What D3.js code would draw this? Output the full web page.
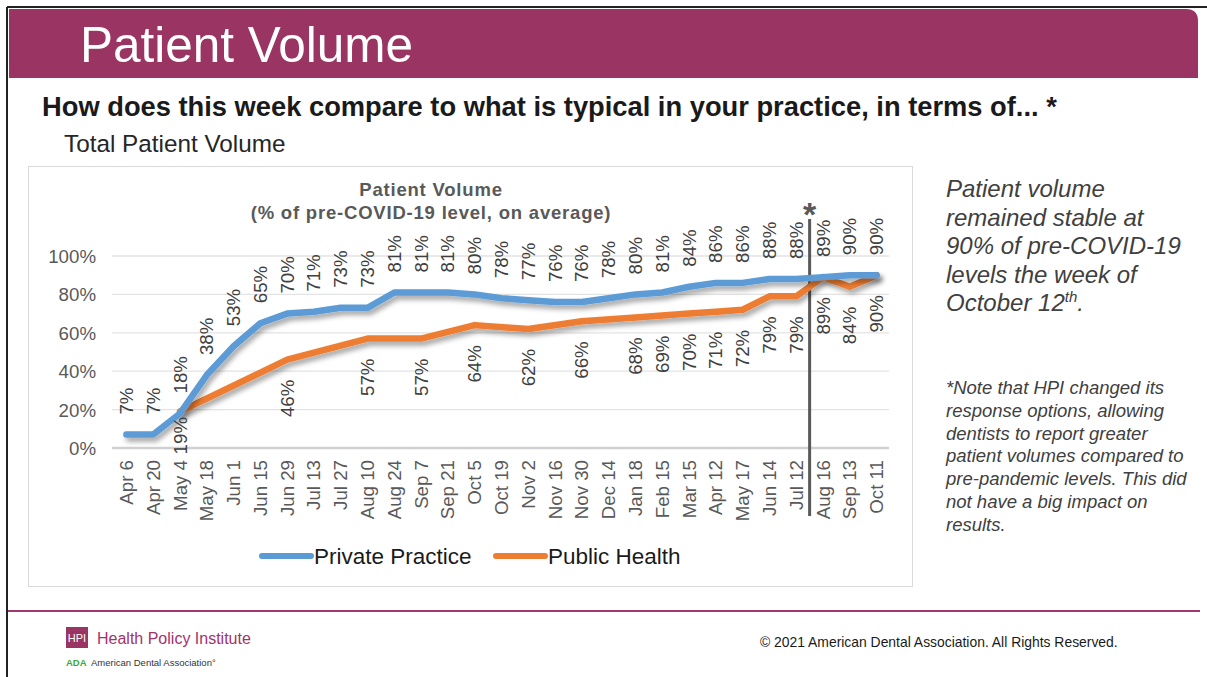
<!DOCTYPE html>
<html lang="en">
  <head>
    <meta charset="utf-8" />
    <title>Patient Volume</title>
    <script type="text/javascript" src="https://d3js.org/d3.v7.min.js"></script>
    <style>
      body { margin: 0; background: #fff; }
      svg { display: block; font-family: Arial, "Liberation Sans", sans-serif; }
    </style>
  </head>
  <body>
    <div id="slide"></div>

    <script type="text/javascript">
      /********************************
       * data
       ********************************/

      const categories = [
        "Apr 6", "Apr 20", "May 4", "May 18", "Jun 1", "Jun 15", "Jun 29",
        "Jul 13", "Jul 27", "Aug 10", "Aug 24", "Sep 7", "Sep 21", "Oct 5",
        "Oct 19", "Nov 2", "Nov 16", "Nov 30", "Dec 14", "Jan 18", "Feb 15",
        "Mar 15", "Apr 12", "May 17", "Jun 14", "Jul 12", "Aug 16", "Sep 13",
        "Oct 11",
      ];

      const privatePractice = [
        7, 7, 18, 38, 53, 65, 70, 71, 73, 73, 81, 81, 81, 80, 78, 77, 76, 76,
        78, 80, 81, 84, 86, 86, 88, 88, 89, 90, 90,
      ];

      // null = no value that week, line is drawn straight across the gap
      const publicHealth = [
        null, null, 19, null, null, null, 46, null, null, 57, null, 57, null,
        64, null, 62, null, 66, null, 68, 69, 70, 71, 72, 79, 79, 89, 84, 90,
      ];

      const yTicks = [0, 20, 40, 60, 80, 100];
      const changeAfter = "Jul 12"; // response options changed after this week

      const seriesNames = ["Private Practice", "Public Health"];
      const seriesColors = ["#5B9BD5", "#ED7D31"];

      /***************************
       * svg
       **************************/

      const width = 1207;
      const height = 677;
      const magenta = "#993463";

      const svg = d3
        .select("div#slide")
        .append("svg")
        .attr("width", width)
        .attr("height", height);

      const defs = svg.append("defs");
      defs
        .append("filter")
        .attr("id", "shadow")
        .attr("x", "-5%")
        .attr("y", "-20%")
        .attr("width", "110%")
        .attr("height", "140%")
        .append("feDropShadow")
        .attr("dx", 2.5)
        .attr("dy", 4)
        .attr("stdDeviation", 2.5)
        .attr("flood-color", "#000")
        .attr("flood-opacity", 0.35);

      /***************************
       * slide frame + header
       **************************/

      svg.append("line") // top edge
        .attr("x1", 7).attr("x2", width).attr("y1", 7).attr("y2", 7)
        .style("stroke", "#222").style("stroke-width", 2);
      svg.append("line") // left edge
        .attr("x1", 7).attr("x2", 7).attr("y1", 7).attr("y2", height)
        .style("stroke", "#222").style("stroke-width", 2);

      svg.append("path")
        .attr("d", "M9,9 H1186 Q1198,9 1198,21 V78 H9 Z")
        .style("fill", magenta);

      svg.append("text")
        .attr("x", 80).attr("y", 62)
        .style("font-size", "49.5px").style("fill", "#fff")
        .text("Patient Volume");

      svg.append("text")
        .attr("x", 42).attr("y", 116)
        .style("font-size", "27.3px").style("font-weight", "bold").style("fill", "#1a1a1a")
        .text("How does this week compare to what is typical in your practice, in terms of... *");

      svg.append("text")
        .attr("x", 64).attr("y", 152)
        .style("font-size", "24.3px").style("fill", "#262626")
        .text("Total Patient Volume");

      /***************************
       * chart box
       **************************/

      svg.append("rect")
        .attr("x", 28.5).attr("y", 166.5).attr("width", 884).attr("height", 420)
        .style("fill", "#fff").style("stroke", "#d9d9d9");

      svg.append("text")
        .attr("x", 431).attr("y", 196).attr("text-anchor", "middle")
        .style("font-size", "18.5px").style("font-weight", "bold")
        .style("letter-spacing", "0.8px").style("fill", "#595959")
        .text("Patient Volume");
      svg.append("text")
        .attr("x", 431).attr("y", 219).attr("text-anchor", "middle")
        .style("font-size", "18.5px").style("font-weight", "bold")
        .style("letter-spacing", "0.8px").style("fill", "#595959")
        .text("(% of pre-COVID-19 level, on average)");

      /****************************
       * scales
       ****************************/

      const x = d3.scaleBand().domain(categories).range([113, 890]);
      const cx = (d) => x(d) + x.bandwidth() / 2;
      const y = d3.scaleLinear().domain([0, 100]).range([448, 256]);

      /****************************
       * grid + axes
       ****************************/

      const grid = svg.append("g");
      grid.selectAll("line")
        .data(yTicks)
        .enter()
        .append("line")
        .attr("x1", 112).attr("x2", 889)
        .attr("y1", (d) => y(d)).attr("y2", (d) => y(d))
        .style("stroke", (d) => (d === 0 ? "#d0d0d0" : "#e3e3e3"))
        .style("stroke-width", (d) => (d === 0 ? 2.5 : 1.3));

      const yAxis = svg.append("g")
        .attr("transform", "translate(96,0)")
        .call(d3.axisLeft(y).tickValues(yTicks).tickSize(0).tickPadding(0).tickFormat((d) => d + "%"));
      yAxis.select(".domain").remove();
      yAxis.selectAll("text")
        .attr("dy", "0.35em")
        .style("font-size", "18.7px").style("font-family", "Arial, 'Liberation Sans', sans-serif")
        .style("fill", "#595959");

      const xAxis = svg.append("g")
        .attr("transform", "translate(0,460)")
        .call(d3.axisBottom(x).tickSize(0).tickPadding(0));
      xAxis.select(".domain").remove();
      xAxis.selectAll("text")
        .attr("y", 0).attr("x", 0).attr("dy", "0.35em")
        .attr("transform", "rotate(-90)")
        .attr("text-anchor", "end")
        .style("font-size", "18.7px").style("font-family", "Arial, 'Liberation Sans', sans-serif")
        .style("fill", "#595959");

      /****************************
       * marker for changed response options
       ****************************/

      const xChange = (cx(changeAfter) + cx(categories[categories.indexOf(changeAfter) + 1])) / 2;
      svg.append("line")
        .attr("x1", xChange).attr("x2", xChange).attr("y1", 219).attr("y2", 516)
        .style("stroke", "#595959").style("stroke-width", 3);
      svg.append("text")
        .attr("x", xChange).attr("y", 226).attr("text-anchor", "middle")
        .style("font-size", "34px").style("font-weight", "bold").style("fill", "#595959")
        .text("*");

      /****************************
       * lines
       ****************************/

      const series = [privatePractice, publicHealth].map((values, i) => ({
        name: seriesNames[i],
        color: seriesColors[i],
        points: categories
          .map((c, j) => ({ cat: c, value: values[j] }))
          .filter((p) => p.value !== null),
      }));

      const line = d3.line().x((d) => cx(d.cat)).y((d) => y(d.value));

      svg.append("g")
        .selectAll("path")
        .data(series.slice().reverse())
        .enter()
        .append("path")
        .attr("d", (d) => line(d.points))
        .attr("filter", "url(#shadow)")
        .style("fill", "none")
        .style("stroke", (d) => d.color)
        .style("stroke-width", 6.5)
        .style("stroke-linejoin", "round")
        .style("stroke-linecap", "round");

      /****************************
       * data labels (rotated)
       ****************************/

      // private practice labels sit above the line
      svg.append("g")
        .selectAll("text")
        .data(series[0].points)
        .enter()
        .append("text")
        .attr("transform", (d) => `translate(${cx(d.cat)},${y(d.value) - 20}) rotate(-90)`)
        .attr("dy", "0.35em")
        .style("font-size", "18.7px").style("fill", "#404040")
        .text((d) => d.value + "%");

      // public health labels sit below the line
      svg.append("g")
        .selectAll("text")
        .data(series[1].points)
        .enter()
        .append("text")
        .attr("transform", (d) => {
          const gap = Math.min(20, y(0) - y(d.value) - 31);
          return `translate(${cx(d.cat)},${y(d.value) + gap}) rotate(-90)`;
        })
        .attr("dy", "0.35em")
        .attr("text-anchor", "end")
        .style("font-size", "18.7px").style("fill", "#404040")
        .text((d) => d.value + "%");

      /****************************
       * legend
       ****************************/

      const legendX = [262, 496];
      const legend = svg.append("g")
        .selectAll("g")
        .data(series)
        .enter()
        .append("g")
        .attr("transform", (d, i) => `translate(${legendX[i]},556)`);
      legend.append("line")
        .attr("x1", 0).attr("x2", 49)
        .style("stroke", (d) => d.color).style("stroke-width", 6).style("stroke-linecap", "round");
      legend.append("text")
        .attr("x", 52).attr("dy", "0.35em")
        .style("font-size", "22.5px").style("fill", "#1a1a1a")
        .text((d) => d.name);

      /****************************
       * side notes
       ****************************/

      const note1 = svg.append("text")
        .style("font-size", "24px").style("font-style", "italic").style("fill", "#404040");
      ["Patient volume", "remained stable at", "90% of pre-COVID-19", "levels the week of"]
        .forEach((t, i) => note1.append("tspan").attr("x", 946).attr("y", 197 + i * 28.5).text(t));
      note1.append("tspan").attr("x", 946).attr("y", 197 + 4 * 28.5).text("October 12");
      note1.append("tspan").attr("dy", -9).style("font-size", "15px").text("th");
      note1.append("tspan").attr("dy", 9).text(".");

      const note2 = svg.append("text")
        .style("font-size", "18.5px").style("font-style", "italic").style("fill", "#404040");
      [
        "*Note that HPI changed its",
        "response options, allowing",
        "dentists to report greater",
        "patient volumes compared to",
        "pre-pandemic levels. This did",
        "not have a big impact on",
        "results.",
      ].forEach((t, i) => note2.append("tspan").attr("x", 946).attr("y", 394 + i * 22.8).text(t));

      /****************************
       * footer
       ****************************/

      svg.append("line")
        .attr("x1", 8).attr("x2", 1200).attr("y1", 611).attr("y2", 611)
        .style("stroke", "#a3386e").style("stroke-width", 2);

      svg.append("rect")
        .attr("x", 66).attr("y", 627).attr("width", 22).attr("height", 21)
        .style("fill", magenta);
      svg.append("text")
        .attr("x", 77).attr("y", 642).attr("text-anchor", "middle")
        .style("font-size", "11px").style("fill", "#fff")
        .text("HPI");
      svg.append("text")
        .attr("x", 97).attr("y", 644)
        .style("font-size", "16px").style("fill", "#a3336b")
        .text("Health Policy Institute");
      svg.append("text")
        .attr("x", 66).attr("y", 666)
        .style("font-size", "9.5px").style("font-weight", "bold").style("fill", "#3aaa35")
        .text("ADA");
      svg.append("text")
        .attr("x", 91).attr("y", 666)
        .style("font-size", "9.5px").style("fill", "#333")
        .text("American Dental Association\u00b0");

      svg.append("text")
        .attr("x", 760).attr("y", 647)
        .style("font-size", "13.9px").style("fill", "#1a1a1a")
        .text("\u00a9 2021 American Dental Association. All Rights Reserved.");
    </script>
  </body>
</html>
